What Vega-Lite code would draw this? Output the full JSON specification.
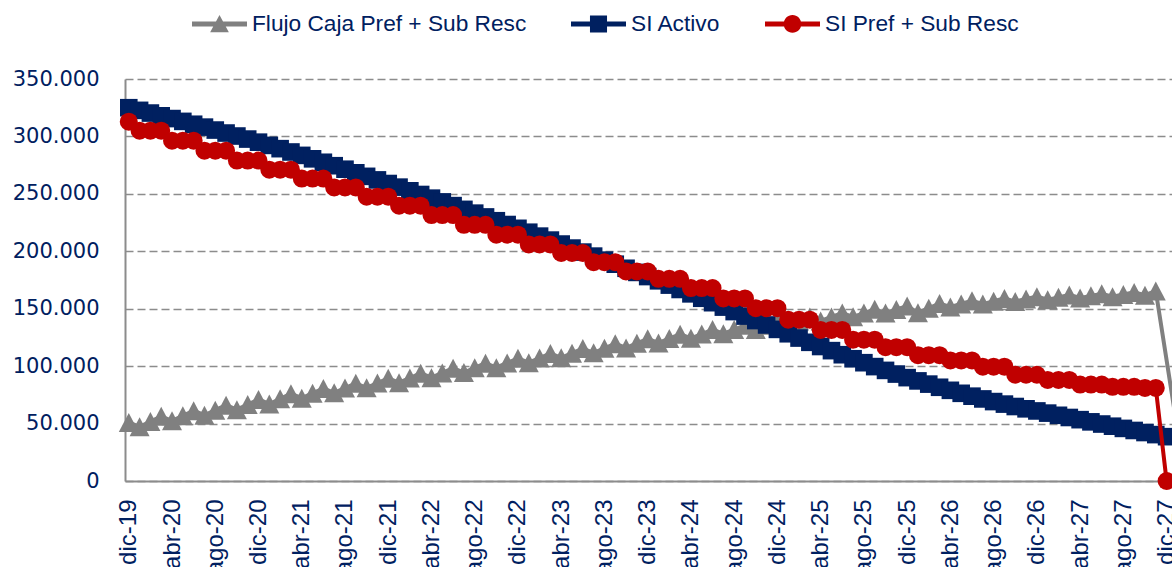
{
  "$schema": "https://vega.github.io/schema/vega-lite/v6.json",
  "width": 1047,
  "height": 402,
  "autosize": {"type": "none"},
  "padding": {"left": 125, "top": 79, "right": 0, "bottom": 86},
  "background": "white",
  "config": {"view": {"stroke": null}},
  "datasets": {
    "flujo": [
      {"i":0,"v":51000},{"i":1,"v":47200},{"i":2,"v":51800},{"i":3,"v":56300},{"i":4,"v":52400},{"i":5,"v":56800},{"i":6,"v":61200},{"i":7,"v":57300},{"i":8,"v":61700},{"i":9,"v":66000},
      {"i":10,"v":62100},{"i":11,"v":66600},{"i":12,"v":71000},{"i":13,"v":67100},{"i":14,"v":71600},{"i":15,"v":76000},{"i":16,"v":72100},{"i":17,"v":76400},{"i":18,"v":80600},{"i":19,"v":76800},
      {"i":20,"v":80900},{"i":21,"v":85000},{"i":22,"v":81200},{"i":23,"v":85300},{"i":24,"v":89400},{"i":25,"v":85600},{"i":26,"v":89700},{"i":27,"v":93800},{"i":28,"v":90000},{"i":29,"v":94100},
      {"i":30,"v":98200},{"i":31,"v":94400},{"i":32,"v":98500},{"i":33,"v":102500},{"i":34,"v":98700},{"i":35,"v":102800},{"i":36,"v":106800},{"i":37,"v":103000},{"i":38,"v":107000},{"i":39,"v":111000},
      {"i":40,"v":107300},{"i":41,"v":111300},{"i":42,"v":115300},{"i":43,"v":111600},{"i":44,"v":115600},{"i":45,"v":119600},{"i":46,"v":115900},{"i":47,"v":119900},{"i":48,"v":123800},{"i":49,"v":120200},
      {"i":50,"v":124000},{"i":51,"v":127800},{"i":52,"v":124200},{"i":53,"v":128000},{"i":54,"v":131800},{"i":55,"v":128300},{"i":56,"v":131900},{"i":57,"v":135500},{"i":58,"v":132000},{"i":59,"v":135600},
      {"i":60,"v":139200},{"i":61,"v":135800},{"i":62,"v":139300},{"i":63,"v":142800},{"i":64,"v":139400},{"i":65,"v":142800},{"i":66,"v":146200},{"i":67,"v":142900},{"i":68,"v":146200},{"i":69,"v":149500},
      {"i":70,"v":146300},{"i":71,"v":149300},{"i":72,"v":152300},{"i":73,"v":146500},{"i":74,"v":150500},{"i":75,"v":154500},{"i":76,"v":151500},{"i":77,"v":154200},{"i":78,"v":157000},{"i":79,"v":154000},
      {"i":80,"v":156500},{"i":81,"v":159000},{"i":82,"v":156200},{"i":83,"v":158400},{"i":84,"v":160500},{"i":85,"v":157800},{"i":86,"v":159900},{"i":87,"v":162000},{"i":88,"v":159300},{"i":89,"v":161200},
      {"i":90,"v":163000},{"i":91,"v":160500},{"i":92,"v":162400},{"i":93,"v":164200},{"i":94,"v":161800},{"i":95,"v":165500},{"i":97,"v":45000}
    ],
    "activo": [
      {"i":0,"v":325000},{"i":1,"v":322700},{"i":2,"v":320350},{"i":3,"v":317950},{"i":4,"v":315550},{"i":5,"v":313100},{"i":6,"v":310600},{"i":7,"v":308100},{"i":8,"v":305550},{"i":9,"v":302950},
      {"i":10,"v":300350},{"i":11,"v":297700},{"i":12,"v":295000},{"i":13,"v":292200},{"i":14,"v":289350},{"i":15,"v":286450},{"i":16,"v":283500},{"i":17,"v":280500},{"i":18,"v":277500},{"i":19,"v":274500},
      {"i":20,"v":271450},{"i":21,"v":268350},{"i":22,"v":265250},{"i":23,"v":262150},{"i":24,"v":259000},{"i":25,"v":255850},{"i":26,"v":252650},{"i":27,"v":249450},{"i":28,"v":246250},{"i":29,"v":243000},
      {"i":30,"v":239750},{"i":31,"v":236500},{"i":32,"v":233200},{"i":33,"v":229900},{"i":34,"v":226600},{"i":35,"v":223300},{"i":36,"v":220000},{"i":37,"v":216600},{"i":38,"v":213200},{"i":39,"v":209750},
      {"i":40,"v":206300},{"i":41,"v":202800},{"i":42,"v":199300},{"i":43,"v":195800},{"i":44,"v":192300},{"i":45,"v":188750},{"i":46,"v":185200},{"i":47,"v":181600},{"i":48,"v":178000},{"i":49,"v":174300},
      {"i":50,"v":170550},{"i":51,"v":166750},{"i":52,"v":162950},{"i":53,"v":159100},{"i":54,"v":155250},{"i":55,"v":151400},{"i":56,"v":147500},{"i":57,"v":143600},{"i":58,"v":139700},{"i":59,"v":135850},
      {"i":60,"v":132000},{"i":61,"v":128200},{"i":62,"v":124450},{"i":63,"v":120750},{"i":64,"v":117100},{"i":65,"v":113500},{"i":66,"v":109950},{"i":67,"v":106450},{"i":68,"v":103000},{"i":69,"v":99600},
      {"i":70,"v":96300},{"i":71,"v":93100},{"i":72,"v":90000},{"i":73,"v":87150},{"i":74,"v":84350},{"i":75,"v":81600},{"i":76,"v":78950},{"i":77,"v":76350},{"i":78,"v":73850},{"i":79,"v":71450},
      {"i":80,"v":69150},{"i":81,"v":66950},{"i":82,"v":64850},{"i":83,"v":62850},{"i":84,"v":61000},{"i":85,"v":59100},{"i":86,"v":57200},{"i":87,"v":55300},{"i":88,"v":53400},{"i":89,"v":51500},
      {"i":90,"v":49600},{"i":91,"v":47700},{"i":92,"v":45800},{"i":93,"v":44000},{"i":94,"v":42200},{"i":95,"v":40400},{"i":96,"v":38600}
    ],
    "pref": [
      {"i":0,"v":312800},{"i":1,"v":305000},{"i":2,"v":305000},{"i":3,"v":305000},{"i":4,"v":296300},{"i":5,"v":296300},{"i":6,"v":296300},{"i":7,"v":287600},{"i":8,"v":287600},{"i":9,"v":287600},
      {"i":10,"v":279000},{"i":11,"v":279000},{"i":12,"v":279000},{"i":13,"v":271000},{"i":14,"v":271000},{"i":15,"v":271000},{"i":16,"v":263300},{"i":17,"v":263300},{"i":18,"v":263300},{"i":19,"v":255600},
      {"i":20,"v":255600},{"i":21,"v":255600},{"i":22,"v":247500},{"i":23,"v":247500},{"i":24,"v":247500},{"i":25,"v":239700},{"i":26,"v":239700},{"i":27,"v":239700},{"i":28,"v":231500},{"i":29,"v":231500},
      {"i":30,"v":231500},{"i":31,"v":223000},{"i":32,"v":223000},{"i":33,"v":223000},{"i":34,"v":214500},{"i":35,"v":214500},{"i":36,"v":214500},{"i":37,"v":206000},{"i":38,"v":206000},{"i":39,"v":206000},
      {"i":40,"v":198500},{"i":41,"v":198500},{"i":42,"v":198500},{"i":43,"v":190500},{"i":44,"v":190500},{"i":45,"v":190500},{"i":46,"v":182500},{"i":47,"v":182500},{"i":48,"v":182500},{"i":49,"v":176000},
      {"i":50,"v":176000},{"i":51,"v":176000},{"i":52,"v":168000},{"i":53,"v":168000},{"i":54,"v":168000},{"i":55,"v":159000},{"i":56,"v":159000},{"i":57,"v":159000},{"i":58,"v":150500},{"i":59,"v":150500},
      {"i":60,"v":150500},{"i":61,"v":140500},{"i":62,"v":140500},{"i":63,"v":140500},{"i":64,"v":131500},{"i":65,"v":131500},{"i":66,"v":131500},{"i":67,"v":123000},{"i":68,"v":123000},{"i":69,"v":123000},
      {"i":70,"v":116500},{"i":71,"v":116500},{"i":72,"v":116500},{"i":73,"v":109500},{"i":74,"v":109500},{"i":75,"v":109500},{"i":76,"v":105000},{"i":77,"v":105000},{"i":78,"v":105000},{"i":79,"v":99500},
      {"i":80,"v":99500},{"i":81,"v":99500},{"i":82,"v":92500},{"i":83,"v":92500},{"i":84,"v":92500},{"i":85,"v":88000},{"i":86,"v":88000},{"i":87,"v":88000},{"i":88,"v":84000},{"i":89,"v":84000},
      {"i":90,"v":84000},{"i":91,"v":82000},{"i":92,"v":82000},{"i":93,"v":82000},{"i":94,"v":81000},{"i":95,"v":81000},{"i":96,"v":0}
    ]
  },
  "encoding": {
    "x": {
      "field": "i", "type": "quantitative",
      "scale": {"domain": [-0.35, 96.5], "nice": false, "zero": false},
      "axis": {
        "values": [0,4,8,12,16,20,24,28,32,36,40,44,48,52,56,60,64,68,72,76,80,84,88,92,96],
        "labelExpr": "['dic','ene','feb','mar','abr','may','jun','jul','ago','sep','oct','nov'][datum.value % 12] + '-' + (19 + floor((datum.value + 11) / 12))",
        "labelAngle": 270, "labelFont": "Liberation Sans", "labelFontSize": 24, "labelColor": "#002060",
        "labelPadding": 18, "ticks": false, "grid": false, "domainColor": "#8C8C8C", "domainWidth": 2,
        "title": null, "labelOverlap": false, "labelBound": false, "labelFlush": false
      }
    },
    "y": {
      "field": "v", "type": "quantitative",
      "scale": {"domain": [0, 350000], "nice": false},
      "axis": {
        "values": [0,50000,100000,150000,200000,250000,300000,350000],
        "labelExpr": "replace(format(datum.value, ','), ',', '.')",
        "labelFont": "DejaVu Sans", "labelFontSize": 21, "labelColor": "#002060", "labelPadding": 26,
        "ticks": false, "grid": true, "gridDash": [8, 4], "gridColor": "#8C8C8C", "gridWidth": 1.5,
        "domainColor": "#8C8C8C", "domainWidth": 2, "title": null
      }
    }
  },
  "layer": [
    {
      "data": {"name": "flujo"},
      "layer": [
        {
          "mark": {"type": "line", "strokeWidth": 4},
          "encoding": {
            "color": {
              "datum": "Flujo Caja Pref + Sub Resc", "type": "nominal",
              "scale": {"domain": ["Flujo Caja Pref + Sub Resc", "SI Activo", "SI Pref + Sub Resc"], "range": ["#808080", "#002060", "#C00000"]},
              "legend": {
                "orient": "none", "legendX": 67, "legendY": -83, "direction": "horizontal", "title": null,
                "padding": 0, "labelFont": "Liberation Sans", "labelFontSize": 22.7, "labelColor": "#002060",
                "labelLimit": 600, "labelOffset": 5, "columnPadding": 44, "symbolSize": 3025, "symbolStrokeWidth": 0,
                "encode": {
                  "symbols": {
                    "update": {
                      "shape": {"signal": "datum.value === 'SI Activo' ? 'M-1,-0.09H1V0.09H-1Z M-0.31,-0.31H0.31V0.31H-0.31Z' : (datum.value === 'SI Pref + Sub Resc' ? 'M-1,-0.09H1V0.09H-1Z M-0.32,0A0.32,0.32 0 0,1 0.32,0A0.32,0.32 0 0,1 -0.32,0Z' : 'M-1,-0.09H1V0.09H-1Z M0,-0.32L0.34,0.3L-0.34,0.3Z')"},
                      "fill": {"signal": "scale('color', datum.value)"},
                      "fillOpacity": {"value": 1},
                      "opacity": {"value": 1},
                      "stroke": {"value": "transparent"}
                    }
                  }
                }
              }
            }
          }
        },
        {
          "mark": {"type": "point", "filled": true, "opacity": 1, "shape": "M0,-0.95L1,0.95L-1,0.95Z", "size": 400},
          "encoding": {"color": {"datum": "Flujo Caja Pref + Sub Resc", "type": "nominal"}}
        }
      ]
    },
    {
      "data": {"name": "activo"},
      "layer": [
        {"mark": {"type": "line", "strokeWidth": 4}, "encoding": {"color": {"datum": "SI Activo", "type": "nominal"}}},
        {"mark": {"type": "point", "filled": true, "opacity": 1, "shape": "square", "size": 310}, "encoding": {"color": {"datum": "SI Activo", "type": "nominal"}}}
      ]
    },
    {
      "data": {"name": "pref"},
      "layer": [
        {"mark": {"type": "line", "strokeWidth": 4}, "encoding": {"color": {"datum": "SI Pref + Sub Resc", "type": "nominal"}}},
        {"mark": {"type": "point", "filled": true, "opacity": 1, "shape": "circle", "size": 324}, "encoding": {"color": {"datum": "SI Pref + Sub Resc", "type": "nominal"}}}
      ]
    }
  ]
}
